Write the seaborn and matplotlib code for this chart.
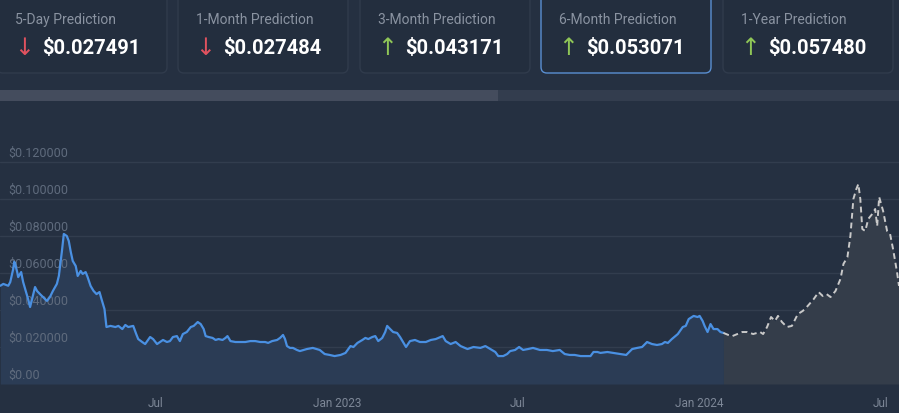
import pandas as pd
import seaborn as sns
import matplotlib.pyplot as plt
from matplotlib.patches import FancyBboxPatch, Rectangle

# ---- data ----
card_titles = ["5-Day Prediction", "1-Month Prediction", "3-Month Prediction",
               "6-Month Prediction", "1-Year Prediction"]
card_values = ["$0.027491", "$0.027484", "$0.043171", "$0.053071", "$0.057480"]
card_up = [False, False, True, True, True]
selected_card = 3

hist_dates = [
    "2022-01-26", "2022-01-29", "2022-02-03", "2022-02-05", "2022-02-08", "2022-02-09", "2022-02-10", "2022-02-12", "2022-02-13", "2022-02-16",
    "2022-02-18", "2022-02-21", "2022-02-23", "2022-02-25", "2022-02-27", "2022-03-02", "2022-03-04", "2022-03-07", "2022-03-10", "2022-03-14",
    "2022-03-17", "2022-03-20", "2022-03-24", "2022-03-26", "2022-03-29", "2022-03-31", "2022-04-03", "2022-04-05", "2022-04-07", "2022-04-09",
    "2022-04-12", "2022-04-14", "2022-04-17", "2022-04-19", "2022-04-22", "2022-04-24", "2022-04-27", "2022-04-30", "2022-05-03", "2022-05-06",
    "2022-05-08", "2022-05-11", "2022-05-13", "2022-05-17", "2022-05-22", "2022-05-25", "2022-05-29", "2022-06-01", "2022-06-04", "2022-06-09",
    "2022-06-12", "2022-06-14", "2022-06-18", "2022-06-21", "2022-06-26",
    "2022-06-29", "2022-07-03", "2022-07-06", "2022-07-09", "2022-07-13", "2022-07-16", "2022-07-19", "2022-07-23", "2022-07-26", "2022-07-29",
    "2022-08-02", "2022-08-06", "2022-08-09", "2022-08-13", "2022-08-16", "2022-08-19", "2022-08-21", "2022-08-24", "2022-08-28", "2022-08-31",
    "2022-09-03", "2022-09-07", "2022-09-10", "2022-09-12", "2022-09-15", "2022-09-20", "2022-09-25", "2022-09-30", "2022-10-05", "2022-10-10",
    "2022-10-15", "2022-10-20", "2022-10-23", "2022-10-27", "2022-11-01", "2022-11-04", "2022-11-07", "2022-11-09", "2022-11-11", "2022-11-14",
    "2022-11-17", "2022-11-21", "2022-11-24",
    "2022-12-01", "2022-12-07", "2022-12-14", "2022-12-19", "2022-12-24", "2022-12-29", "2023-01-04", "2023-01-09", "2023-01-14", "2023-01-17",
    "2023-01-21", "2023-01-26", "2023-01-29", "2023-02-01", "2023-02-05", "2023-02-08", "2023-02-11", "2023-02-15", "2023-02-18", "2023-02-20",
    "2023-02-23", "2023-02-26", "2023-03-02", "2023-03-05", "2023-03-08", "2023-03-11", "2023-03-15", "2023-03-20", "2023-03-25", "2023-03-31",
    "2023-04-05", "2023-04-10", "2023-04-17", "2023-04-20", "2023-04-25", "2023-04-30", "2023-05-05", "2023-05-12", "2023-05-18", "2023-05-25",
    "2023-05-30", "2023-06-04", "2023-06-09", "2023-06-12", "2023-06-17", "2023-06-21", "2023-06-24", "2023-06-29", "2023-07-03", "2023-07-07",
    "2023-07-12", "2023-07-17", "2023-07-24", "2023-07-31", "2023-08-06", "2023-08-13", "2023-08-18", "2023-08-23", "2023-08-28", "2023-09-03",
    "2023-09-08", "2023-09-13", "2023-09-16", "2023-09-20", "2023-09-23", "2023-09-30", "2023-10-06", "2023-10-13", "2023-10-19", "2023-10-25",
    "2023-10-30", "2023-11-04", "2023-11-09", "2023-11-14", "2023-11-19", "2023-11-24", "2023-11-27", "2023-11-30", "2023-12-04", "2023-12-10",
    "2023-12-15", "2023-12-18", "2023-12-21", "2023-12-26", "2023-12-30", "2024-01-01", "2024-01-04", "2024-01-06", "2024-01-09", "2024-01-12",
    "2024-01-15", "2024-01-19", "2024-01-22", "2024-01-25",
]
hist_prices = [
    0.0531, 0.0541, 0.0531, 0.0551, 0.0622, 0.0661, 0.0649, 0.0605, 0.0578, 0.0605,
    0.0551, 0.0497, 0.0459, 0.0416, 0.0459, 0.0524, 0.0503, 0.0486, 0.0470, 0.0449,
    0.0470, 0.0503, 0.0541, 0.0584, 0.0714, 0.0811, 0.0800, 0.0773, 0.0714, 0.0665,
    0.0638, 0.0584, 0.0611, 0.0595, 0.0605, 0.0578, 0.0530, 0.0503, 0.0486, 0.0497,
    0.0459, 0.0405, 0.0308, 0.0314, 0.0308, 0.0314, 0.0297, 0.0319, 0.0308, 0.0314,
    0.0270, 0.0243, 0.0227, 0.0216, 0.0254,
    0.0243, 0.0216, 0.0227, 0.0238, 0.0227, 0.0232, 0.0254, 0.0259, 0.0232, 0.0270,
    0.0281, 0.0308, 0.0314, 0.0335, 0.0324, 0.0297, 0.0259, 0.0254, 0.0249, 0.0238,
    0.0243, 0.0238, 0.0249, 0.0259, 0.0232, 0.0227, 0.0227, 0.0227, 0.0232, 0.0232,
    0.0227, 0.0227, 0.0222, 0.0232, 0.0238, 0.0249, 0.0265, 0.0243, 0.0205, 0.0195,
    0.0195, 0.0184, 0.0178,
    0.0189, 0.0195, 0.0184, 0.0162, 0.0157, 0.0151, 0.0157, 0.0168, 0.0205, 0.0200,
    0.0222, 0.0238, 0.0249, 0.0243, 0.0254, 0.0259, 0.0232, 0.0249, 0.0281, 0.0314,
    0.0297, 0.0281, 0.0276, 0.0254, 0.0227, 0.0200, 0.0232, 0.0238, 0.0227, 0.0227,
    0.0238, 0.0243, 0.0259, 0.0232, 0.0216, 0.0227, 0.0205, 0.0189, 0.0200, 0.0195,
    0.0205, 0.0189, 0.0173, 0.0151, 0.0151, 0.0162, 0.0178, 0.0184, 0.0200, 0.0184,
    0.0189, 0.0195, 0.0184, 0.0184, 0.0178, 0.0184, 0.0162, 0.0157, 0.0157, 0.0151,
    0.0151, 0.0151, 0.0173, 0.0173, 0.0168, 0.0173, 0.0168, 0.0162, 0.0157, 0.0189,
    0.0195, 0.0200, 0.0227, 0.0216, 0.0211, 0.0216, 0.0227, 0.0222, 0.0243, 0.0270,
    0.0308, 0.0314, 0.0351, 0.0368, 0.0362, 0.0368, 0.0341, 0.0314, 0.0281, 0.0324,
    0.0297, 0.0297, 0.0281, 0.0276,
]

fc_dates = [
    "2024-01-25", "2024-01-30", "2024-02-03", "2024-02-08", "2024-02-13", "2024-02-18", "2024-02-24", "2024-03-02", "2024-03-05", "2024-03-09",
    "2024-03-13", "2024-03-17", "2024-03-20", "2024-03-24", "2024-03-29", "2024-04-03", "2024-04-09", "2024-04-14", "2024-04-19", "2024-04-25",
    "2024-04-30", "2024-05-04", "2024-05-08", "2024-05-12", "2024-05-17", "2024-05-22", "2024-05-25", "2024-05-29", "2024-06-01", "2024-06-04",
    "2024-06-07", "2024-06-09", "2024-06-11", "2024-06-13", "2024-06-16", "2024-06-19", "2024-06-23", "2024-06-26", "2024-06-28", "2024-06-30",
    "2024-07-04", "2024-07-08", "2024-07-11", "2024-07-14", "2024-07-18", "2024-07-20",
]
fc_prices = [
    0.0276, 0.0265, 0.0259, 0.0270, 0.0281, 0.0281, 0.0270, 0.0281, 0.0270, 0.0308,
    0.0362, 0.0341, 0.0368, 0.0335, 0.0308, 0.0314, 0.0378, 0.0395, 0.0422, 0.0459,
    0.0497, 0.0476, 0.0486, 0.0470, 0.0503, 0.0568, 0.0649, 0.0686, 0.0800, 0.1000,
    0.1054, 0.1081, 0.1000, 0.0838, 0.0827, 0.0892, 0.0919, 0.0946, 0.0854, 0.1011,
    0.0935, 0.0827, 0.0811, 0.0730, 0.0605, 0.0530,
]

y_ticks = [0.0, 0.02, 0.04, 0.06, 0.08, 0.10, 0.12]
y_tick_labels = ["$0.00", "$0.020000", "$0.040000", "$0.060000", "$0.080000", "$0.100000", "$0.120000"]
x_ticks = ["2022-07-01", "2023-01-01", "2023-07-01", "2024-01-01", "2024-07-01"]
x_tick_labels = ["Jul", "Jan 2023", "Jul", "Jan 2024", "Jul"]

# ---- colours ----
BG = "#253041"
CARD_BG = "#232e3e"
CARD_EDGE = "#303b4c"
SEL_EDGE = "#5a8fd2"
BLUE = "#4a90e2"
GREY_LINE = "#c9c9c9"

sns.set_theme(style="dark")
plt.rcParams["font.family"] = ["Roboto", "DejaVu Sans"]

hist = pd.DataFrame({"date": pd.to_datetime(hist_dates), "price": hist_prices})
fc = pd.DataFrame({"date": pd.to_datetime(fc_dates), "price": fc_prices})

fig = plt.figure(figsize=(8.99, 4.14), dpi=100, facecolor=BG)

# chart
ax = fig.add_axes([0, 29 / 414, 1, 245 / 414])
ax.set_facecolor(BG)
ax.fill_between(hist["date"], hist["price"], 0, color="#2b3c55", lw=0, zorder=1)
ax.fill_between(fc["date"], fc["price"], 0, color="#343d4a", lw=0, zorder=1)
sns.lineplot(data=hist, x="date", y="price", ax=ax, color=BLUE, linewidth=1.6, zorder=4)
sns.lineplot(data=fc, x="date", y="price", ax=ax, color=GREY_LINE, linewidth=1.4,
             linestyle=(0, (3, 2)), zorder=4)

ax.set_xlim(pd.Timestamp("2022-01-25 16:00"), pd.Timestamp("2024-07-20"))
ax.set_ylim(0, 245 / 1850)
ax.set_xlabel("")
ax.set_ylabel("")
for s in ax.spines.values():
    s.set_visible(False)

ax.set_yticks(y_ticks)
ax.set_yticklabels([])
ax.grid(axis="y", color="#323d4e", linewidth=1, zorder=0)
ax.grid(axis="x", visible=False)
ax.tick_params(axis="y", length=0)
for v, lab in zip(y_ticks, y_tick_labels):
    ax.annotate(lab, xy=(0, v), xycoords=("axes fraction", "data"),
                xytext=(6, 2), textcoords="offset points",
                ha="left", va="bottom", fontsize=9, color="#5f6b7d", zorder=2)

ax.set_xticks(pd.to_datetime(x_ticks))
ax.set_xticklabels(x_tick_labels)
ax.tick_params(axis="x", length=0, pad=9, labelsize=8.5, labelcolor="#7d8797")

# top strip: prediction cards and the scrollbar
top = fig.add_axes([0, 0, 1, 1], zorder=5)
top.set_xlim(0, 899)
top.set_ylim(414, 0)
top.axis("off")

card_left = [-3, 178, 360, 541, 723]
for i, (title, val) in enumerate(zip(card_titles, card_values)):
    x0 = card_left[i]
    edge = SEL_EDGE if i == selected_card else CARD_EDGE
    top.add_patch(FancyBboxPatch((x0, -12), 170, 86, boxstyle="round,pad=0,rounding_size=6",
                                 fc=CARD_BG, ec=edge, lw=1.0))
    top.text(x0 + 18, 20, title, fontsize=10, color="#8a93a1", va="center", ha="left")
    arrow = "↑" if card_up[i] else "↓"
    acol = "#8fc657" if card_up[i] else "#e0525f"
    top.text(x0 + 27, 48, arrow, fontsize=17, color=acol, va="center", ha="center",
             family=["DejaVu Sans"])
    top.text(x0 + 45, 48, val, fontsize=14.5, color="white", fontweight="bold",
             va="center", ha="left")

top.add_patch(Rectangle((0, 91), 899, 11, fc="#333d4e", ec="none"))
top.add_patch(Rectangle((0, 91), 498, 11, fc="#444c5d", ec="none"))

fig.savefig("out.png", dpi=100, facecolor=BG)
